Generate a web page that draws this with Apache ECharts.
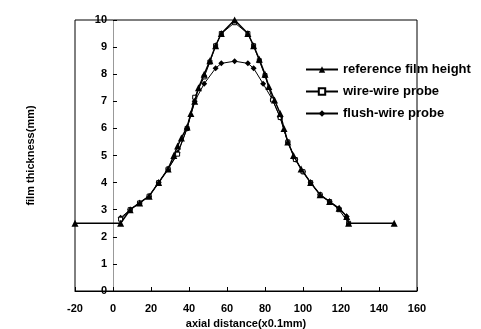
<!DOCTYPE html>
<html>
<head>
<meta charset="utf-8">
<script src="https://cdn.jsdelivr.net/npm/echarts@6/dist/echarts.min.js"></script>
<style>
  html, body { margin: 0; padding: 0; background: #fff; }
  #chart { width: 481px; height: 329px; }
</style>
</head>
<body>
<div id="chart"></div>
<script>
// axial distance (x0.1mm) / film thickness (mm)
const refX = [-20, 4, 9, 14, 19, 24, 29, 32, 34, 36, 39, 41, 43, 45, 48, 51, 54, 57, 64, 71, 74, 77, 80, 82, 85, 88, 90, 92, 95, 99, 104, 109, 114, 119, 123, 124, 148];
const refY = [2.5, 2.5, 3.0, 3.25, 3.5, 4.0, 4.5, 5.0, 5.35, 5.65, 6.05, 6.55, 7.0, 7.5, 8.0, 8.5, 9.05, 9.5, 10.0, 9.5, 9.05, 8.55, 8.0, 7.55, 7.05, 6.55, 6.0, 5.5, 5.0, 4.5, 4.0, 3.55, 3.3, 3.05, 2.75, 2.5, 2.5];

const wireX = [4, 9, 14, 19, 24, 29, 34, 39, 43, 48, 51, 54, 57, 64, 71, 74, 77, 80, 84, 88, 92, 96, 100, 104, 109, 114, 119, 124];
const wireY = [2.65, 3.0, 3.25, 3.5, 4.0, 4.5, 5.05, 6.0, 7.15, 7.9, 8.45, 9.05, 9.5, 9.9, 9.5, 9.05, 8.5, 7.95, 7.05, 6.4, 5.5, 4.85, 4.4, 4.0, 3.55, 3.3, 3.0, 2.5];

const flushX = [4, 9, 14, 19, 24, 29, 34, 39, 43, 48, 54, 57, 64, 71, 74, 79, 84, 88, 92, 96, 100, 104, 109, 114, 119, 123];
const flushY = [2.7, 3.0, 3.25, 3.5, 4.0, 4.5, 5.1, 6.0, 7.0, 7.65, 8.22, 8.4, 8.48, 8.4, 8.22, 7.65, 7.05, 6.4, 5.5, 4.85, 4.4, 4.0, 3.55, 3.3, 3.05, 2.75];

const xTicks = { min: -20, max: 160, interval: 20 };
const yTicks = { min: 0, max: 10, interval: 1 };

const pair = (xs, ys) => xs.map((x, i) => [x, ys[i]]);

const chart = echarts.init(document.getElementById('chart'));
const font = 'Liberation Sans, Arial, sans-serif';

// y axis sits on x = 0, i.e. 20 units (of 180 over 342px) right of the grid's left edge
const yAxisShift = -Math.round(342 * 20 / 180);

chart.setOption({
  backgroundColor: '#fff',
  animation: false,
  grid: { left: 75, right: 64, top: 20, bottom: 38, show: true, borderColor: '#000', borderWidth: 1, outerBoundsMode: 'none', containLabel: false },
  legend: {
    orient: 'vertical',
    left: 300,
    top: 58,
    itemWidth: 32,
    itemHeight: 8,
    itemGap: 9,
    textStyle: { color: '#000', fontSize: 13, fontWeight: 'bold', fontFamily: font },
    data: ['reference film height', 'wire-wire probe', 'flush-wire probe']
  },
  xAxis: {
    type: 'value',
    min: xTicks.min, max: xTicks.max, interval: xTicks.interval,
    name: 'axial distance(x0.1mm)',
    nameLocation: 'middle',
    nameGap: 22,
    nameTextStyle: { color: '#000', fontSize: 11, fontWeight: 'bold', fontFamily: font },
    axisLine: { onZero: false, lineStyle: { color: '#000', width: 1 } },
    axisTick: { show: true, inside: true, length: 4, lineStyle: { color: '#000' } },
    axisLabel: { color: '#000', fontSize: 11, fontWeight: 'bold', fontFamily: font, margin: 12 },
    splitLine: { show: false }
  },
  yAxis: {
    type: 'value',
    min: yTicks.min, max: yTicks.max, interval: yTicks.interval,
    offset: yAxisShift,
    name: 'film thickness(mm)',
    nameLocation: 'middle',
    nameRotate: 90,
    nameGap: 77,
    nameTextStyle: { color: '#000', fontSize: 11, fontWeight: 'bold', fontFamily: font },
    axisLine: { onZero: false, lineStyle: { color: '#999', width: 1 } },
    axisTick: { show: true, inside: true, length: 4, lineStyle: { color: '#000' } },
    axisLabel: { color: '#000', fontSize: 11, fontWeight: 'bold', fontFamily: font, margin: 6 },
    splitLine: { show: false }
  },
  series: [
    {
      name: 'reference film height',
      type: 'line',
      data: pair(refX, refY),
      symbol: 'triangle',
      symbolSize: 7,
      itemStyle: { color: '#000' },
      lineStyle: { color: '#000', width: 1.5 },
      z: 4
    },
    {
      name: 'wire-wire probe',
      type: 'line',
      data: pair(wireX, wireY),
      symbol: 'rect',
      symbolSize: 4,
      itemStyle: { color: '#fff', borderColor: '#000', borderWidth: 1 },
      lineStyle: { color: '#000', width: 1 },
      z: 3
    },
    {
      name: 'flush-wire probe',
      type: 'line',
      data: pair(flushX, flushY),
      symbol: 'diamond',
      symbolSize: 6,
      itemStyle: { color: '#000' },
      lineStyle: { color: '#000', width: 1 },
      z: 2
    }
  ]
});
</script>
</body>
</html>
